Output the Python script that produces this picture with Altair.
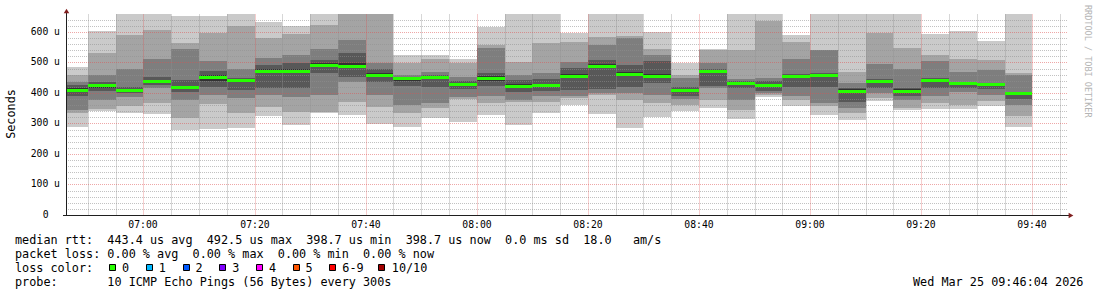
import altair as alt
import pandas as pd

FONT = "DejaVu Sans Mono"

# ---------------- data ----------------
# 5-minute rrd steps, start minute (after 06:00) of each step: 06:45 ... 09:35
slot_start = [45 + 5 * j for j in range(35)]

# ten sorted ping RTTs per step (microseconds), lowest -> highest
ping1 = [288, 341, 335, 331, 279, 282, 285, 325, 294, 333, 328, 297, 287, 317, 306, 328, 295, 336,
         361, 332, 285, 320, 340, 351, 316, 388, 358, 328, 310, 373, 343, 346, 347, 356, 290]
ping2 = [333, 347, 357, 366, 317, 364, 335, 355, 339, 339, 371, 353, 335, 350, 380, 366, 370, 371,
         383, 393, 377, 368, 360, 377, 344, 394, 377, 356, 336, 385, 350, 367, 361, 375, 323]
ping3 = [345, 377, 388, 415, 377, 393, 382, 393, 388, 393, 437, 393, 361, 366, 388, 390, 377, 390,
         390, 400, 399, 393, 380, 415, 377, 399, 390, 366, 350, 400, 377, 390, 404, 395, 361]
ping4 = [390, 408, 399, 425, 404, 419, 410, 418, 418, 464, 453, 437, 423, 421, 412, 423, 404, 408,
         410, 412, 421, 432, 390, 423, 418, 405, 421, 421, 371, 418, 390, 418, 415, 412, 379]
ping5 = [405, 418, 407, 436, 414, 440, 437, 465, 466, 486, 482, 455, 440, 445, 424, 440, 418, 420,
         450, 484, 457, 452, 404, 466, 428, 420, 452, 455, 405, 436, 405, 437, 428, 425, 394]
ping6 = [415, 428, 414, 444, 424, 459, 444, 478, 480, 497, 497, 466, 447, 453, 432, 455, 428, 430,
         462, 495, 468, 462, 413, 476, 436, 430, 458, 462, 412, 443, 412, 446, 434, 430, 399]
ping7 = [425, 437, 420, 451, 443, 473, 448, 492, 498, 508, 530, 480, 452, 460, 440, 467, 443, 447,
         481, 509, 492, 505, 420, 478, 440, 440, 462, 464, 415, 445, 418, 448, 435, 432, 400]
ping8 = [437, 459, 479, 510, 544, 506, 478, 514, 523, 544, 574, 497, 460, 470, 453, 546, 459, 465,
         503, 557, 579, 524, 448, 497, 445, 448, 510, 540, 432, 496, 478, 506, 470, 475, 459]
ping9 = [459, 532, 590, 607, 563, 596, 620, 581, 595, 623, 665, 665, 497, 510, 499, 557, 503, 563,
         567, 584, 587, 543, 459, 540, 540, 637, 568, 541, 470, 598, 546, 524, 510, 508, 467]
ping10 = [486, 603, 665, 665, 654, 654, 665, 634, 621, 665, 690, 690, 524, 525, 510, 618, 665, 665,
          598, 665, 665, 601, 499, 543, 665, 665, 590, 665, 665, 665, 665, 595, 602, 572, 665]
median = [410, 426, 410, 440, 419, 454, 442, 471, 473, 492.5, 488, 458, 450, 451, 428, 448, 423, 425,
          456, 489, 462, 456, 409, 471, 434, 426, 456, 460, 408, 440, 408, 442, 432, 428, 398.7]

y_ticks = [100, 200, 300, 400, 500, 600]
y_labels = ["100 u", "200 u", "300 u", "400 u", "500 u", "600 u"]
y_zero_label = "0"
x_ticks = [60, 80, 100, 120, 140, 160, 180, 200, 220]
x_labels = ["07:00", "07:20", "07:40", "08:00", "08:20", "08:40", "09:00", "09:20", "09:40"]

line1 = "median rtt:  443.4 us avg  492.5 us max  398.7 us min  398.7 us now  0.0 ms sd  18.0   am/s"
line2 = "packet loss: 0.00 % avg  0.00 % max  0.00 % min  0.00 % now"
line3 = "loss color:"
line4 = "probe:       10 ICMP Echo Pings (56 Bytes) every 300s"
stamp = "Wed Mar 25 09:46:04 2026"
watermark = "RRDTOOL / TOBI OETIKER"
loss_labels = ["0", "1", "2", "3", "4", "5", "6-9", "10/10"]
loss_colors = ["#26ff00", "#00b8ff", "#0059ff", "#7e00ff", "#ff00ff", "#ff5500", "#ff0000", "#a10000"]

# ---------------- layout / style ----------------
W, H = 1002, 201
smoke_colors = ["#cacaca", "#a4a4a4", "#7e7e7e", "#585858", "#323232"]
sq_left = [43, 80, 117, 153, 190, 227, 263, 312]          # px, relative to plot
lab_left = [56, 92.7, 129.5, 166.2, 202.9, 239.6, 276.3, 325.8]


def nb(s):
    return s.replace(" ", "\u00a0")


xscale = alt.Scale(domain=[46.0667, 226.42], nice=False, zero=False, round=True)
yscale = alt.Scale(domain=[0, 659], nice=False, zero=False, round=True)
one = pd.DataFrame({"a": [0]})

pings = [ping1, ping2, ping3, ping4, ping5, ping6, ping7, ping8, ping9, ping10]
layers = []
for k in range(5):
    df = pd.DataFrame({
        "t0": slot_start,
        "t1": [s + 5 for s in slot_start],
        "lo": pings[k],
        "hi": pings[9 - k],
    })
    layers.append(
        alt.Chart(df).mark_rect(color=smoke_colors[k], clip=True)
        .encode(x=alt.X("t0:Q", scale=xscale, axis=None), x2="t1:Q",
                y=alt.Y("lo:Q", scale=yscale, axis=None), y2="hi:Q")
    )

# grid (drawn over the smoke, as rrdtool does)
minor_x = pd.DataFrame({"m": [m for m in range(50, 230, 5) if m % 20 != 0]})
major_x = pd.DataFrame({"m": x_ticks})
minor_y = pd.DataFrame({"v": [v for v in range(20, 660, 20) if v % 100 != 0]})
major_y = pd.DataFrame({"v": y_ticks})
gmin_h = dict(stroke="#8f8f8f", strokeOpacity=0.55, strokeDash=[1, 1], strokeWidth=1)
gmaj_h = dict(stroke="#de4f4f", strokeOpacity=0.5, strokeDash=[1, 1], strokeWidth=1)
gmin_v = dict(stroke="#8f8f8f", strokeOpacity=0.36, strokeWidth=1)
gmaj_v = dict(stroke="#de4f4f", strokeOpacity=0.28, strokeWidth=1)
layers += [
    alt.Chart(minor_x).mark_rule(xOffset=0.5, **gmin_v)
    .encode(x=alt.X("m:Q", scale=xscale, axis=None), y=alt.value(0), y2=alt.value(H)),
    alt.Chart(minor_y).mark_rule(yOffset=0.5, **gmin_h)
    .encode(y=alt.Y("v:Q", scale=yscale, axis=None), x=alt.value(0), x2=alt.value(W)),
    alt.Chart(major_x).mark_rule(xOffset=0.5, **gmaj_v)
    .encode(x=alt.X("m:Q", scale=xscale, axis=None), y=alt.value(0), y2=alt.value(H)),
    alt.Chart(major_y).mark_rule(yOffset=0.5, **gmaj_h)
    .encode(y=alt.Y("v:Q", scale=yscale, axis=None), x=alt.value(0), x2=alt.value(W)),
]

# median band
med_df = pd.DataFrame({"t0": slot_start, "t1": [s + 5 for s in slot_start], "med": median})
layers.append(
    alt.Chart(med_df).mark_rule(color="#26ff00", strokeWidth=3, yOffset=0.5, clip=True)
    .encode(x=alt.X("t0:Q", scale=xscale, axis=None), x2="t1:Q", y=alt.Y("med:Q", scale=yscale, axis=None))
)

# axes lines and arrows
layers += [
    alt.Chart(one).mark_rule(color="#1f1f1f", strokeWidth=1)
    .encode(x=alt.value(0.5), y=alt.value(-2), y2=alt.value(201)),
    alt.Chart(one).mark_rule(color="#1f1f1f", strokeWidth=1)
    .encode(x=alt.value(-3), x2=alt.value(1003), y=alt.value(201.5)),
    alt.Chart(one).mark_point(shape="triangle-up", filled=True, size=30, color="#801f1f", opacity=1)
    .encode(x=alt.value(0.5), y=alt.value(-3)),
    alt.Chart(one).mark_point(shape="triangle-right", filled=True, size=30, color="#801f1f", opacity=1)
    .encode(x=alt.value(1005), y=alt.value(201.5)),
]

# tick labels
xt = pd.DataFrame({"m": x_ticks, "label": x_labels})
yt = pd.DataFrame({"v": y_ticks, "label": [nb(s) for s in y_labels]})
layers += [
    alt.Chart(xt).mark_text(font=FONT, fontSize=9.75, color="#000", baseline="alphabetic", align="center")
    .encode(x=alt.X("m:Q", scale=xscale, axis=None), y=alt.value(214), text="label:N"),
    alt.Chart(yt).mark_text(font=FONT, fontSize=9.75, color="#000", baseline="middle", align="right")
    .encode(x=alt.value(-6), y=alt.Y("v:Q", scale=yscale, axis=None), text="label:N"),
    alt.Chart(one).mark_text(font=FONT, fontSize=9.75, color="#000", baseline="middle", align="right")
    .encode(x=alt.value(-17.5), y=alt.value(H), text=alt.value(y_zero_label)),
]


def txt(s, x, y, size=11.8, color="#000", angle=0, align="left", baseline="alphabetic"):
    return alt.Chart(one).mark_text(font=FONT, fontSize=size, color=color, angle=angle,
                                    align=align, baseline=baseline).encode(
        x=alt.value(x), y=alt.value(y), text=alt.value(nb(s)))


layers += [
    txt("Seconds", -55.3, 100, align="center", baseline="middle", angle=270),
    txt(watermark, 1022, -9, size=8.5, color="#b4b4b4", angle=90, baseline="middle"),
    txt(line1, -51, 230),
    txt(line2, -51, 244),
    txt(line3, -51, 258),
    txt(line4, -51, 272),
    txt(stamp, 847, 272),
]

leg = pd.DataFrame({"label": loss_labels, "color": loss_colors})
leg["sx"] = [s + 0.5 for s in sq_left]
leg["sx2"] = [s + 6.5 for s in sq_left]
leg["lx"] = lab_left
layers += [
    alt.Chart(leg).mark_rect(stroke="#000", strokeWidth=1)
    .encode(x=alt.X("sx:Q", scale=None), x2="sx2:Q", y=alt.value(250.5), y2=alt.value(256.5),
            color=alt.Color("color:N", scale=None)),
    alt.Chart(leg).mark_text(font=FONT, fontSize=11.8, color="#000", align="left", baseline="alphabetic")
    .encode(x=alt.X("lx:Q", scale=None), y=alt.value(258), text="label:N"),
]

chart = alt.layer(*layers).properties(
    width=W, height=H,
    padding={"left": 66, "top": 14, "right": 29, "bottom": 82},
    autosize=alt.AutoSizeParams(type="none"),
    background="#ffffff",
).configure_view(stroke=None)

chart.save("out.html", embed_options={"renderer": "svg", "actions": False})
